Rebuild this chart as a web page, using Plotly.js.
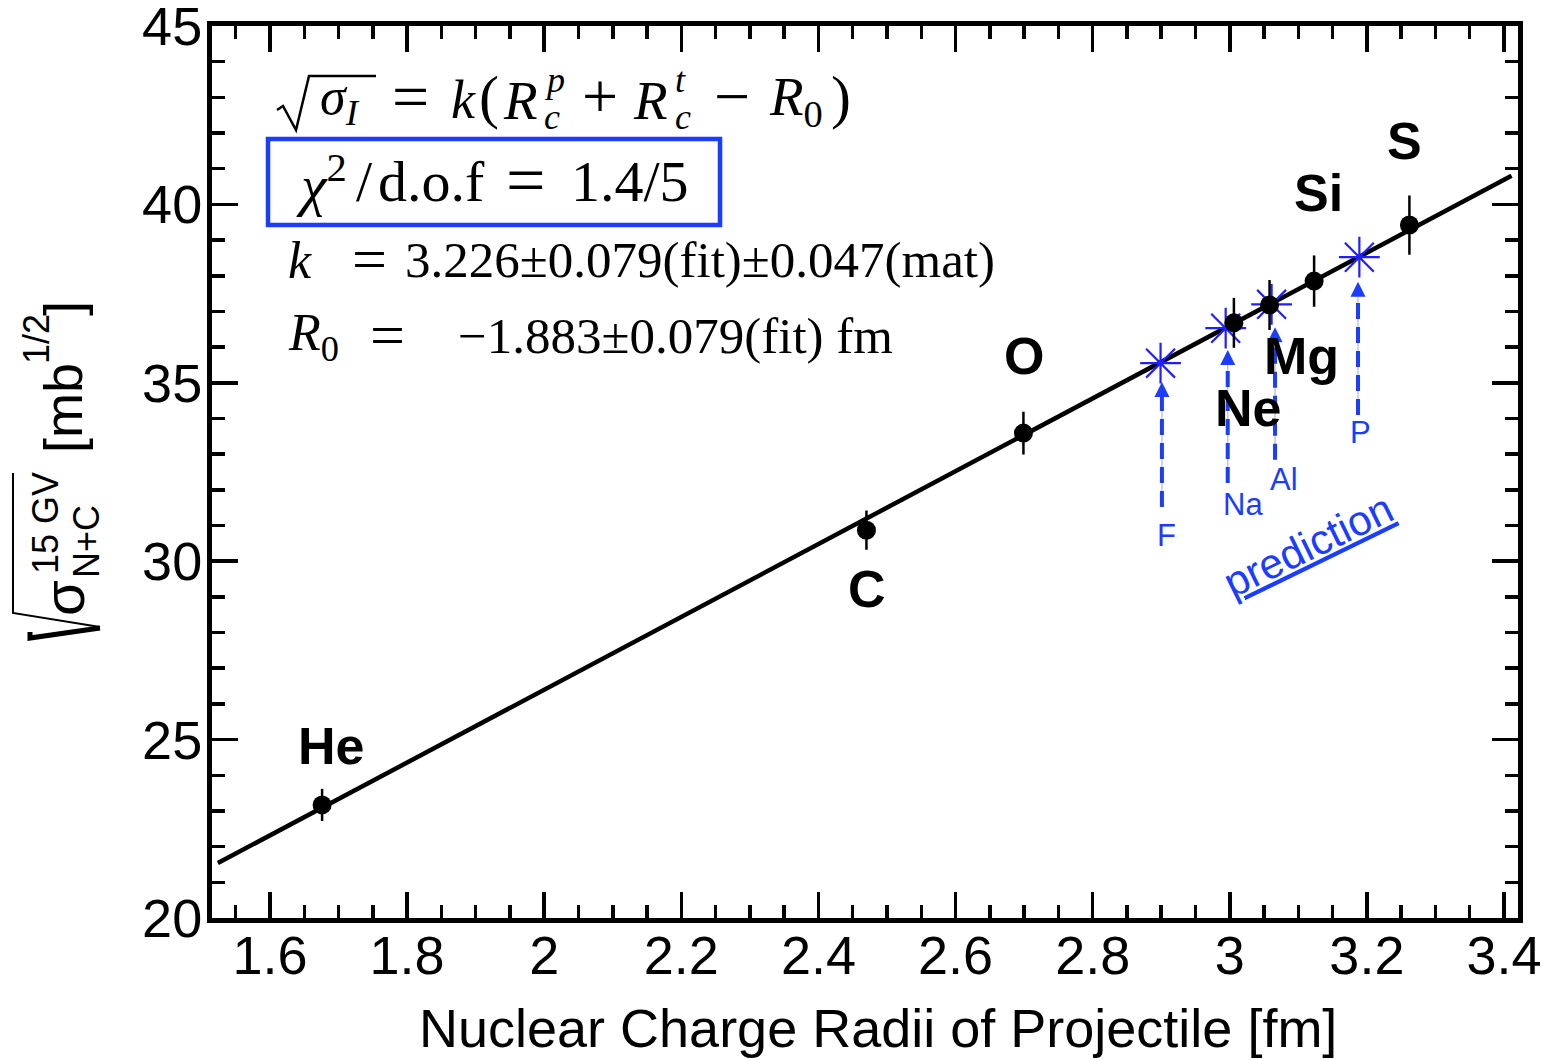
<!DOCTYPE html>
<html><head><meta charset="utf-8">
<script src="https://cdn.plot.ly/plotly-3.0.1.min.js"></script>
<style>html,body{margin:0;padding:0;background:#fff}#chart{width:1550px;height:1060px}</style>
</head><body><div id="chart"></div>
<script>
// measured nuclei
const elements = ['He', 'C', 'O', 'Ne', 'Mg', 'Si', 'S'];
const radius = [1.676, 2.470, 2.699, 3.006, 3.058, 3.123, 3.262];
const sqrtSigma = [23.17, 30.87, 33.59, 36.68, 37.18, 37.85, 39.42];
const sqrtSigmaErr = [0.45, 0.55, 0.60, 0.70, 0.70, 0.72, 0.83];
const labelX = [1.689, 2.471, 2.700, 3.026, 3.105, 3.129, 3.255];
const labelY = [24.82, 29.22, 35.75, 34.29, 35.75, 40.32, 41.78];

// predictions
const predElements = ['F', 'Na', 'Al', 'P'];
const predRadius = [2.899, 2.994, 3.061, 3.189];
const predSigma = [35.55, 36.53, 37.20, 38.52];
const arrowX = [2.901, 2.997, 3.066, 3.187];
const arrowTipY = [35.02, 35.92, 36.56, 37.83];
const arrowBaseY = [31.52, 32.19, 32.84, 34.10];
const predLabelX = [2.908, 3.019, 3.079, 3.191];
const predLabelY = [30.73, 31.58, 32.28, 33.62];

// fit line
const fitX = [1.524, 3.411];
const fitY = [21.54, 40.80];

const BLUE = '#1a3dff';
const STAR = '#1f1fff';
const SANS = 'Liberation Sans, Arial, Helvetica, sans-serif';
const SERIF = 'Liberation Serif, Times New Roman, serif';

// pixel -> paper helpers (layout positions only)
const L = 212, T = 26, W = 1306, H = 892;
const PX = p => (p - L) / W;
const PY = p => (T + H - p) / H;
const path = pts => 'M' + pts.map(p => PX(p[0]).toFixed(5) + ',' + PY(p[1]).toFixed(5)).join('L');

// dashed arrow shafts
const shaftX = [], shaftY = [];
arrowX.forEach((x, i) => { shaftX.push(x, x, null); shaftY.push(arrowBaseY[i], arrowTipY[i] - 0.38, null); });

const traces = [
  {x: fitX, y: fitY, mode: 'lines', line: {color: '#000', width: 4.5}, hoverinfo: 'skip'},
  {x: shaftX, y: shaftY, mode: 'lines', line: {color: '#c8c8c8', width: 1.5}, hoverinfo: 'skip'},
  {x: shaftX, y: shaftY, mode: 'lines', line: {color: BLUE, width: 4, dash: '16px,8px'}, hoverinfo: 'skip'},
  {x: arrowX, y: arrowTipY, mode: 'markers', hoverinfo: 'skip',
   marker: {symbol: 'arrow-up', size: 15, color: BLUE, line: {width: 0}}},
  {x: predRadius, y: predSigma, mode: 'markers',
   marker: {symbol: 'asterisk-open', size: 34, color: STAR, line: {color: STAR, width: 2.2}}},
  {x: radius, y: sqrtSigma, mode: 'markers',
   error_y: {type: 'data', array: sqrtSigmaErr, visible: true, color: '#000', thickness: 2.5, width: 0},
   marker: {symbol: 'circle', size: 19, color: '#000'}}
];

const ann = [];
// element labels
elements.forEach((e, i) => ann.push({x: labelX[i], y: labelY[i], xref: 'x', yref: 'y', text: '<b>' + e + '</b>',
  showarrow: false, xanchor: 'center', yanchor: 'middle', font: {family: SANS, size: 52, color: '#000'}}));
// prediction labels
predElements.forEach((e, i) => ann.push({x: predLabelX[i], y: predLabelY[i], xref: 'x', yref: 'y', text: e,
  showarrow: false, xanchor: 'center', yanchor: 'middle', font: {family: SANS, size: 31, color: BLUE}}));
ann.push({x: 3.114, y: 30.45, xref: 'x', yref: 'y', text: '<u>prediction</u>', textangle: -26, showarrow: false,
  xanchor: 'center', yanchor: 'middle', font: {family: SANS, size: 42, color: BLUE}});

// formula text pieces (paper coords via pixel helpers)
function t(text, x, y, size, anchor, font) {
  ann.push({x: PX(x), y: PY(y), xref: 'paper', yref: 'paper', text: text, showarrow: false,
    xanchor: anchor || 'left', yanchor: 'middle', font: {family: font || SERIF, size: size, color: '#000'}});
}
// line 1
t('<i>σ</i><sub><i>I</i></sub>', 318, 100, 52);
t('=', 410, 97, 66, 'center');
t('<i>k</i>', 449, 100, 54);
t('(', 477, 97.5, 60);
t('<i>R</i>', 501, 100, 55);
t('<i>p</i>', 554, 80, 36, 'center');
t('<i>c</i>', 552, 117, 36, 'center');
t('+', 600, 97, 64, 'center');
t('<i>R</i>', 631, 100, 55);
t('<i>t</i>', 680, 80, 36, 'center');
t('<i>c</i>', 683, 117, 36, 'center');
t('−', 732, 97, 64, 'center');
t('<i>R</i><sub>0</sub>', 767, 100, 55);
t(')', 829, 97.5, 60);
// line 2
t('<i>χ</i><sup>2</sup>', 294, 181, 58);
t('/', 354, 181, 58);
t('d.o.f', 376, 181, 58);
t('=', 525, 180, 70, 'center');
t('1.4/5', 569, 181, 58);
// line 3
t('<i>k</i>', 286, 260, 52);
t('=', 369, 258.6, 62, 'center');
t('3.226±0.079(fit)±0.047(mat)', 403, 260, 51);
// line 4
t('<i>R</i><sub>0</sub>', 286, 336, 52);
t('=', 387, 334.6, 62, 'center');
t('−1.883±0.079(fit) fm', 456, 336, 51);

// y title pieces (rotated)
function r(text, x, y, size) {
  ann.push({x: PX(x), y: PY(y), xref: 'paper', yref: 'paper', text: text, showarrow: false, textangle: -90,
    xanchor: 'center', yanchor: 'middle', font: {family: SANS, size: size, color: '#000'}});
}
r('σ', 63, 598, 58);
r('15 GV', 45, 523, 36);
r('N+C', 86, 542, 36);
r('[mb', 63, 408, 54);
r('1/2', 37, 339, 36);
r(']', 63, 309, 54);

// x title
ann.push({x: PX(878), y: PY(1028), xref: 'paper', yref: 'paper', text: 'Nuclear Charge Radii of Projectile [fm]',
  showarrow: false, xanchor: 'center', yanchor: 'middle', font: {family: SANS, size: 54, color: '#000'}});

const shapes = [
  {type: 'rect', xref: 'paper', yref: 'paper', x0: PX(268), x1: PX(720), y0: PY(225), y1: PY(139),
   line: {color: BLUE, width: 4.5}},
  {type: 'path', xref: 'paper', yref: 'paper', path: path([[277, 110], [283, 106], [296, 130], [309, 76], [376, 76]]),
   line: {color: '#000', width: 2.5}},
  {type: 'path', xref: 'paper', yref: 'paper', path: path([[13, 473], [13, 613], [100, 627]]),
   line: {color: '#000', width: 2}},
  {type: 'path', xref: 'paper', yref: 'paper', path: path([[100, 628], [30, 638], [30, 632]]),
   line: {color: '#000', width: 5}}
];

const axisCommon = {
  showline: true, linewidth: 5, linecolor: '#000', mirror: 'allticks', showgrid: false, zeroline: false,
  ticks: 'inside', ticklen: 26, tickwidth: 3.5, tickcolor: '#000', ticklabeloverflow: 'allow',
  tickfont: {family: SANS, size: 54, color: '#000'}
};

const layout = {
  width: 1550, height: 1060,
  margin: {l: L, r: 1550 - L - W, t: T, b: 1060 - T - H, pad: 0},
  paper_bgcolor: '#fff', plot_bgcolor: '#fff', showlegend: false,
  xaxis: Object.assign({}, axisCommon, {range: [1.5154, 3.4204], tick0: 1.6, dtick: 0.2, ticklabelstandoff: -14,
    minor: {dtick: 0.05, tick0: 1.6, ticks: 'inside', ticklen: 13, tickwidth: 3.5, tickcolor: '#000'}}),
  yaxis: Object.assign({}, axisCommon, {range: [20, 45], tick0: 20, dtick: 5, ticklabelstandoff: -6,
    minor: {dtick: 1, tick0: 20, ticks: 'inside', ticklen: 13, tickwidth: 3.5, tickcolor: '#000'}}),
  annotations: ann,
  shapes: shapes
};

Plotly.newPlot('chart', traces, layout, {displayModeBar: false, staticPlot: true});
</script>
</body></html>
